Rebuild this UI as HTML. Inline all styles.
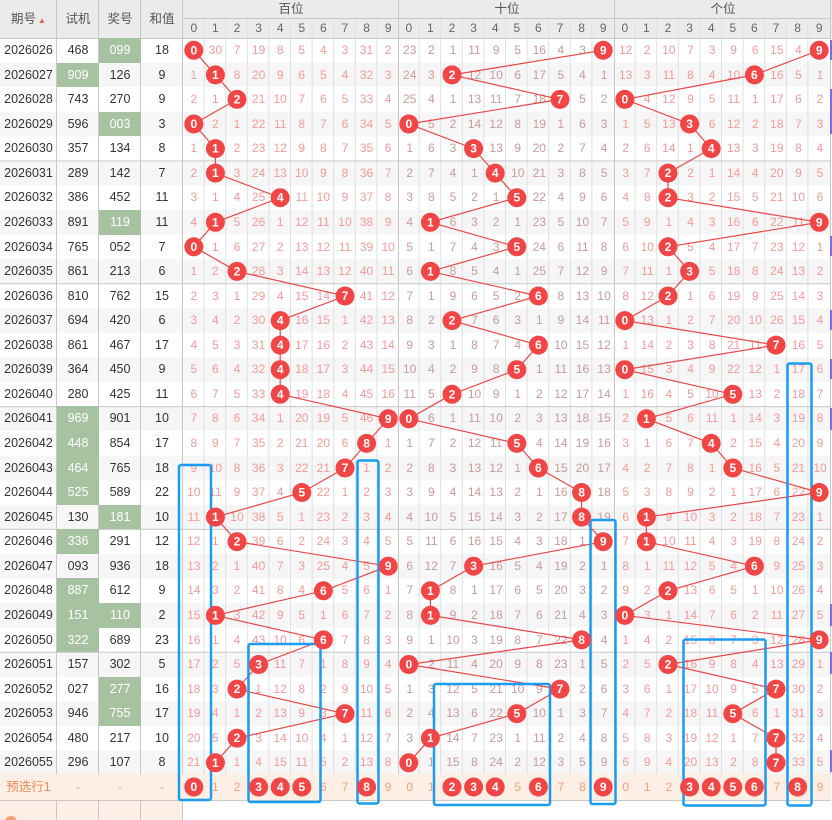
<!DOCTYPE html>
<html><head><meta charset="utf-8"><style>
*{margin:0;padding:0;box-sizing:border-box}
body{width:832px;height:820px;overflow:hidden;background:#fff;position:relative;font-family:"Liberation Sans","Noto Sans CJK SC",sans-serif;font-size:12px}
.abs{position:absolute;left:0;top:0}
.g{position:absolute;left:0;top:38px;width:831px;display:grid;grid-template-columns:57px 42px 42px 42px repeat(30,21.6px);grid-auto-rows:24.57px}
.g i{font-style:normal;text-align:center;line-height:24.57px;color:#f49a9a;white-space:nowrap;overflow:visible}
.g i:nth-child(34n+1),.g i:nth-child(34n+2),.g i:nth-child(34n+3),.g i:nth-child(34n+4){color:#333;font-size:12.5px}
.g i:nth-child(34n+15),.g i:nth-child(34n+16),.g i:nth-child(34n+17),.g i:nth-child(34n+18),.g i:nth-child(34n+19),.g i:nth-child(34n+20),.g i:nth-child(34n+21),.g i:nth-child(34n+22),.g i:nth-child(34n+23),.g i:nth-child(34n+24){color:#c99a9a}
.g i.k{background:#a7c2a0;color:#fff}
.f{position:absolute;left:0;top:774px;width:831px;height:26px;display:grid;grid-template-columns:57px 42px 42px 42px repeat(30,21.6px);background:#fdeee6}
.f i{font-style:normal;text-align:center;line-height:26px;color:#f5a070}
.f i:first-child{color:#f08a50;font-size:12.5px}
.h{position:absolute;top:0;height:38px;line-height:38px;text-align:center;color:#555;font-size:12.5px}
.h2{position:absolute;top:0;height:18px;line-height:18px;text-align:center;color:#555;font-size:12.5px}
.hd{position:absolute;top:18px;height:20px;line-height:20px;width:21.6px;text-align:center;color:#666;font-size:12px}
svg text{fill:#fff;font:bold 12px "Liberation Sans",sans-serif;text-anchor:middle;dominant-baseline:central}
</style></head><body>
<svg class="abs" width="832" height="820">
<defs><pattern id="st" width="832" height="49.14" patternUnits="userSpaceOnUse" y="38"><rect y="24.57" width="832" height="24.57" fill="#f6f6f6"/></pattern></defs>
<rect x="0" y="0" width="832" height="38" fill="#ebebeb"/>
<rect x="0" y="38" width="831" height="737" fill="url(#st)"/>
<rect x="0" y="800" width="183" height="20" fill="#fdeee6"/>
<g stroke="#e0e0e0" stroke-width="1">
<path d="M204.1 18V800M225.7 18V800M247.3 18V800M268.9 18V800M290.5 18V800M312.1 18V800M333.7 18V800M355.3 18V800M376.9 18V800M419.1 18V800M440.7 18V800M462.3 18V800M483.9 18V800M505.5 18V800M527.1 18V800M548.7 18V800M570.3 18V800M591.9 18V800M635.1 18V800M656.7 18V800M678.3 18V800M699.9 18V800M721.5 18V800M743.1 18V800M764.7 18V800M786.3 18V800M807.9 18V800"/>
</g>
<g stroke="#c8c8c8" stroke-width="1">
<path d="M56.5 0V820M98.5 0V820M140.5 0V820M182.5 0V820M398.5 0V800M614.5 0V800M830.5 0V800"/>
<path d="M183 18.5H831M0 38.5H831M0 160.9H831M0 283.7H831M0 406.6H831M0 529.4H831M0 652.3H831M0 774.5H831M0 800.5H831"/>
</g>
<rect x="830" y="40" width="2" height="20" fill="#7b6cf0"/>
<rect x="830" y="89" width="2" height="45" fill="#7b6cf0"/>
<rect x="830" y="236" width="2" height="20" fill="#7b6cf0"/>
<rect x="830" y="310" width="2" height="20" fill="#7b6cf0"/>
<rect x="830" y="359" width="2" height="20" fill="#7b6cf0"/>
<rect x="830" y="408" width="2" height="22" fill="#7b6cf0"/>
<rect x="830" y="604" width="2" height="22" fill="#7b6cf0"/>
<rect x="830" y="652" width="2" height="22" fill="#7b6cf0"/>
<rect x="830" y="750" width="2" height="22" fill="#7b6cf0"/>
<circle cx="11" cy="822" r="6" fill="#f5a070"/>
</svg>

<div class="h" style="left:0;width:57px">期号<span style="font-size:8px;color:#e55;margin-left:2px">▲</span></div>
<div class="h" style="left:57px;width:42px">试机</div>
<div class="h" style="left:99px;width:42px">奖号</div>
<div class="h" style="left:141px;width:42px">和值</div>
<div class="h2" style="left:183px;width:216px">百位</div>
<div class="h2" style="left:399px;width:216px">十位</div>
<div class="h2" style="left:615px;width:216px">个位</div>
<div class="hd" style="left:183px">0</div><div class="hd" style="left:204.6px">1</div><div class="hd" style="left:226.2px">2</div><div class="hd" style="left:247.8px">3</div><div class="hd" style="left:269.4px">4</div><div class="hd" style="left:291px">5</div><div class="hd" style="left:312.6px">6</div><div class="hd" style="left:334.2px">7</div><div class="hd" style="left:355.8px">8</div><div class="hd" style="left:377.4px">9</div>
<div class="hd" style="left:398px">0</div><div class="hd" style="left:419.6px">1</div><div class="hd" style="left:441.2px">2</div><div class="hd" style="left:462.8px">3</div><div class="hd" style="left:484.4px">4</div><div class="hd" style="left:506px">5</div><div class="hd" style="left:527.6px">6</div><div class="hd" style="left:549.2px">7</div><div class="hd" style="left:570.8px">8</div><div class="hd" style="left:592.4px">9</div>
<div class="hd" style="left:614px">0</div><div class="hd" style="left:635.6px">1</div><div class="hd" style="left:657.2px">2</div><div class="hd" style="left:678.8px">3</div><div class="hd" style="left:700.4px">4</div><div class="hd" style="left:722px">5</div><div class="hd" style="left:743.6px">6</div><div class="hd" style="left:765.2px">7</div><div class="hd" style="left:786.8px">8</div><div class="hd" style="left:808.4px">9</div>

<div class="g">
<i>2026026</i><i>468</i><i class="k">099</i><i>18</i><i></i><i>30</i><i>7</i><i>19</i><i>8</i><i>5</i><i>4</i><i>3</i><i>31</i><i>2</i><i>23</i><i>2</i><i>1</i><i>11</i><i>9</i><i>5</i><i>16</i><i>4</i><i>3</i><i></i><i>12</i><i>2</i><i>10</i><i>7</i><i>3</i><i>9</i><i>6</i><i>15</i><i>4</i><i></i>
<i>2026027</i><i class="k">909</i><i>126</i><i>9</i><i>1</i><i></i><i>8</i><i>20</i><i>9</i><i>6</i><i>5</i><i>4</i><i>32</i><i>3</i><i>24</i><i>3</i><i></i><i>12</i><i>10</i><i>6</i><i>17</i><i>5</i><i>4</i><i>1</i><i>13</i><i>3</i><i>11</i><i>8</i><i>4</i><i>10</i><i></i><i>16</i><i>5</i><i>1</i>
<i>2026028</i><i>743</i><i>270</i><i>9</i><i>2</i><i>1</i><i></i><i>21</i><i>10</i><i>7</i><i>6</i><i>5</i><i>33</i><i>4</i><i>25</i><i>4</i><i>1</i><i>13</i><i>11</i><i>7</i><i>18</i><i></i><i>5</i><i>2</i><i></i><i>4</i><i>12</i><i>9</i><i>5</i><i>11</i><i>1</i><i>17</i><i>6</i><i>2</i>
<i>2026029</i><i>596</i><i class="k">003</i><i>3</i><i></i><i>2</i><i>1</i><i>22</i><i>11</i><i>8</i><i>7</i><i>6</i><i>34</i><i>5</i><i></i><i>5</i><i>2</i><i>14</i><i>12</i><i>8</i><i>19</i><i>1</i><i>6</i><i>3</i><i>1</i><i>5</i><i>13</i><i></i><i>6</i><i>12</i><i>2</i><i>18</i><i>7</i><i>3</i>
<i>2026030</i><i>357</i><i>134</i><i>8</i><i>1</i><i></i><i>2</i><i>23</i><i>12</i><i>9</i><i>8</i><i>7</i><i>35</i><i>6</i><i>1</i><i>6</i><i>3</i><i></i><i>13</i><i>9</i><i>20</i><i>2</i><i>7</i><i>4</i><i>2</i><i>6</i><i>14</i><i>1</i><i></i><i>13</i><i>3</i><i>19</i><i>8</i><i>4</i>
<i>2026031</i><i>289</i><i>142</i><i>7</i><i>2</i><i></i><i>3</i><i>24</i><i>13</i><i>10</i><i>9</i><i>8</i><i>36</i><i>7</i><i>2</i><i>7</i><i>4</i><i>1</i><i></i><i>10</i><i>21</i><i>3</i><i>8</i><i>5</i><i>3</i><i>7</i><i></i><i>2</i><i>1</i><i>14</i><i>4</i><i>20</i><i>9</i><i>5</i>
<i>2026032</i><i>386</i><i>452</i><i>11</i><i>3</i><i>1</i><i>4</i><i>25</i><i></i><i>11</i><i>10</i><i>9</i><i>37</i><i>8</i><i>3</i><i>8</i><i>5</i><i>2</i><i>1</i><i></i><i>22</i><i>4</i><i>9</i><i>6</i><i>4</i><i>8</i><i></i><i>3</i><i>2</i><i>15</i><i>5</i><i>21</i><i>10</i><i>6</i>
<i>2026033</i><i>891</i><i class="k">119</i><i>11</i><i>4</i><i></i><i>5</i><i>26</i><i>1</i><i>12</i><i>11</i><i>10</i><i>38</i><i>9</i><i>4</i><i></i><i>6</i><i>3</i><i>2</i><i>1</i><i>23</i><i>5</i><i>10</i><i>7</i><i>5</i><i>9</i><i>1</i><i>4</i><i>3</i><i>16</i><i>6</i><i>22</i><i>11</i><i></i>
<i>2026034</i><i>765</i><i>052</i><i>7</i><i></i><i>1</i><i>6</i><i>27</i><i>2</i><i>13</i><i>12</i><i>11</i><i>39</i><i>10</i><i>5</i><i>1</i><i>7</i><i>4</i><i>3</i><i></i><i>24</i><i>6</i><i>11</i><i>8</i><i>6</i><i>10</i><i></i><i>5</i><i>4</i><i>17</i><i>7</i><i>23</i><i>12</i><i>1</i>
<i>2026035</i><i>861</i><i>213</i><i>6</i><i>1</i><i>2</i><i></i><i>28</i><i>3</i><i>14</i><i>13</i><i>12</i><i>40</i><i>11</i><i>6</i><i></i><i>8</i><i>5</i><i>4</i><i>1</i><i>25</i><i>7</i><i>12</i><i>9</i><i>7</i><i>11</i><i>1</i><i></i><i>5</i><i>18</i><i>8</i><i>24</i><i>13</i><i>2</i>
<i>2026036</i><i>810</i><i>762</i><i>15</i><i>2</i><i>3</i><i>1</i><i>29</i><i>4</i><i>15</i><i>14</i><i></i><i>41</i><i>12</i><i>7</i><i>1</i><i>9</i><i>6</i><i>5</i><i>2</i><i></i><i>8</i><i>13</i><i>10</i><i>8</i><i>12</i><i></i><i>1</i><i>6</i><i>19</i><i>9</i><i>25</i><i>14</i><i>3</i>
<i>2026037</i><i>694</i><i>420</i><i>6</i><i>3</i><i>4</i><i>2</i><i>30</i><i></i><i>16</i><i>15</i><i>1</i><i>42</i><i>13</i><i>8</i><i>2</i><i></i><i>7</i><i>6</i><i>3</i><i>1</i><i>9</i><i>14</i><i>11</i><i></i><i>13</i><i>1</i><i>2</i><i>7</i><i>20</i><i>10</i><i>26</i><i>15</i><i>4</i>
<i>2026038</i><i>861</i><i>467</i><i>17</i><i>4</i><i>5</i><i>3</i><i>31</i><i></i><i>17</i><i>16</i><i>2</i><i>43</i><i>14</i><i>9</i><i>3</i><i>1</i><i>8</i><i>7</i><i>4</i><i></i><i>10</i><i>15</i><i>12</i><i>1</i><i>14</i><i>2</i><i>3</i><i>8</i><i>21</i><i>11</i><i></i><i>16</i><i>5</i>
<i>2026039</i><i>364</i><i>450</i><i>9</i><i>5</i><i>6</i><i>4</i><i>32</i><i></i><i>18</i><i>17</i><i>3</i><i>44</i><i>15</i><i>10</i><i>4</i><i>2</i><i>9</i><i>8</i><i></i><i>1</i><i>11</i><i>16</i><i>13</i><i></i><i>15</i><i>3</i><i>4</i><i>9</i><i>22</i><i>12</i><i>1</i><i>17</i><i>6</i>
<i>2026040</i><i>280</i><i>425</i><i>11</i><i>6</i><i>7</i><i>5</i><i>33</i><i></i><i>19</i><i>18</i><i>4</i><i>45</i><i>16</i><i>11</i><i>5</i><i></i><i>10</i><i>9</i><i>1</i><i>2</i><i>12</i><i>17</i><i>14</i><i>1</i><i>16</i><i>4</i><i>5</i><i>10</i><i></i><i>13</i><i>2</i><i>18</i><i>7</i>
<i>2026041</i><i class="k">969</i><i>901</i><i>10</i><i>7</i><i>8</i><i>6</i><i>34</i><i>1</i><i>20</i><i>19</i><i>5</i><i>46</i><i></i><i></i><i>6</i><i>1</i><i>11</i><i>10</i><i>2</i><i>3</i><i>13</i><i>18</i><i>15</i><i>2</i><i></i><i>5</i><i>6</i><i>11</i><i>1</i><i>14</i><i>3</i><i>19</i><i>8</i>
<i>2026042</i><i class="k">448</i><i>854</i><i>17</i><i>8</i><i>9</i><i>7</i><i>35</i><i>2</i><i>21</i><i>20</i><i>6</i><i></i><i>1</i><i>1</i><i>7</i><i>2</i><i>12</i><i>11</i><i></i><i>4</i><i>14</i><i>19</i><i>16</i><i>3</i><i>1</i><i>6</i><i>7</i><i></i><i>2</i><i>15</i><i>4</i><i>20</i><i>9</i>
<i>2026043</i><i class="k">464</i><i>765</i><i>18</i><i>9</i><i>10</i><i>8</i><i>36</i><i>3</i><i>22</i><i>21</i><i></i><i>1</i><i>2</i><i>2</i><i>8</i><i>3</i><i>13</i><i>12</i><i>1</i><i></i><i>15</i><i>20</i><i>17</i><i>4</i><i>2</i><i>7</i><i>8</i><i>1</i><i></i><i>16</i><i>5</i><i>21</i><i>10</i>
<i>2026044</i><i class="k">525</i><i>589</i><i>22</i><i>10</i><i>11</i><i>9</i><i>37</i><i>4</i><i></i><i>22</i><i>1</i><i>2</i><i>3</i><i>3</i><i>9</i><i>4</i><i>14</i><i>13</i><i>2</i><i>1</i><i>16</i><i></i><i>18</i><i>5</i><i>3</i><i>8</i><i>9</i><i>2</i><i>1</i><i>17</i><i>6</i><i>22</i><i></i>
<i>2026045</i><i>130</i><i class="k">181</i><i>10</i><i>11</i><i></i><i>10</i><i>38</i><i>5</i><i>1</i><i>23</i><i>2</i><i>3</i><i>4</i><i>4</i><i>10</i><i>5</i><i>15</i><i>14</i><i>3</i><i>2</i><i>17</i><i></i><i>19</i><i>6</i><i></i><i>9</i><i>10</i><i>3</i><i>2</i><i>18</i><i>7</i><i>23</i><i>1</i>
<i>2026046</i><i class="k">336</i><i>291</i><i>12</i><i>12</i><i>1</i><i></i><i>39</i><i>6</i><i>2</i><i>24</i><i>3</i><i>4</i><i>5</i><i>5</i><i>11</i><i>6</i><i>16</i><i>15</i><i>4</i><i>3</i><i>18</i><i>1</i><i></i><i>7</i><i></i><i>10</i><i>11</i><i>4</i><i>3</i><i>19</i><i>8</i><i>24</i><i>2</i>
<i>2026047</i><i>093</i><i>936</i><i>18</i><i>13</i><i>2</i><i>1</i><i>40</i><i>7</i><i>3</i><i>25</i><i>4</i><i>5</i><i></i><i>6</i><i>12</i><i>7</i><i></i><i>16</i><i>5</i><i>4</i><i>19</i><i>2</i><i>1</i><i>8</i><i>1</i><i>11</i><i>12</i><i>5</i><i>4</i><i></i><i>9</i><i>25</i><i>3</i>
<i>2026048</i><i class="k">887</i><i>612</i><i>9</i><i>14</i><i>3</i><i>2</i><i>41</i><i>8</i><i>4</i><i></i><i>5</i><i>6</i><i>1</i><i>7</i><i></i><i>8</i><i>1</i><i>17</i><i>6</i><i>5</i><i>20</i><i>3</i><i>2</i><i>9</i><i>2</i><i></i><i>13</i><i>6</i><i>5</i><i>1</i><i>10</i><i>26</i><i>4</i>
<i>2026049</i><i class="k">151</i><i class="k">110</i><i>2</i><i>15</i><i></i><i>3</i><i>42</i><i>9</i><i>5</i><i>1</i><i>6</i><i>7</i><i>2</i><i>8</i><i></i><i>9</i><i>2</i><i>18</i><i>7</i><i>6</i><i>21</i><i>4</i><i>3</i><i></i><i>3</i><i>1</i><i>14</i><i>7</i><i>6</i><i>2</i><i>11</i><i>27</i><i>5</i>
<i>2026050</i><i class="k">322</i><i>689</i><i>23</i><i>16</i><i>1</i><i>4</i><i>43</i><i>10</i><i>6</i><i></i><i>7</i><i>8</i><i>3</i><i>9</i><i>1</i><i>10</i><i>3</i><i>19</i><i>8</i><i>7</i><i>22</i><i></i><i>4</i><i>1</i><i>4</i><i>2</i><i>15</i><i>8</i><i>7</i><i>3</i><i>12</i><i>28</i><i></i>
<i>2026051</i><i>157</i><i>302</i><i>5</i><i>17</i><i>2</i><i>5</i><i></i><i>11</i><i>7</i><i>1</i><i>8</i><i>9</i><i>4</i><i></i><i>2</i><i>11</i><i>4</i><i>20</i><i>9</i><i>8</i><i>23</i><i>1</i><i>5</i><i>2</i><i>5</i><i></i><i>16</i><i>9</i><i>8</i><i>4</i><i>13</i><i>29</i><i>1</i>
<i>2026052</i><i>027</i><i class="k">277</i><i>16</i><i>18</i><i>3</i><i></i><i>1</i><i>12</i><i>8</i><i>2</i><i>9</i><i>10</i><i>5</i><i>1</i><i>3</i><i>12</i><i>5</i><i>21</i><i>10</i><i>9</i><i></i><i>2</i><i>6</i><i>3</i><i>6</i><i>1</i><i>17</i><i>10</i><i>9</i><i>5</i><i></i><i>30</i><i>2</i>
<i>2026053</i><i>946</i><i class="k">755</i><i>17</i><i>19</i><i>4</i><i>1</i><i>2</i><i>13</i><i>9</i><i>3</i><i></i><i>11</i><i>6</i><i>2</i><i>4</i><i>13</i><i>6</i><i>22</i><i></i><i>10</i><i>1</i><i>3</i><i>7</i><i>4</i><i>7</i><i>2</i><i>18</i><i>11</i><i></i><i>6</i><i>1</i><i>31</i><i>3</i>
<i>2026054</i><i>480</i><i>217</i><i>10</i><i>20</i><i>5</i><i></i><i>3</i><i>14</i><i>10</i><i>4</i><i>1</i><i>12</i><i>7</i><i>3</i><i></i><i>14</i><i>7</i><i>23</i><i>1</i><i>11</i><i>2</i><i>4</i><i>8</i><i>5</i><i>8</i><i>3</i><i>19</i><i>12</i><i>1</i><i>7</i><i></i><i>32</i><i>4</i>
<i>2026055</i><i>296</i><i>107</i><i>8</i><i>21</i><i></i><i>1</i><i>4</i><i>15</i><i>11</i><i>5</i><i>2</i><i>13</i><i>8</i><i></i><i>1</i><i>15</i><i>8</i><i>24</i><i>2</i><i>12</i><i>3</i><i>5</i><i>9</i><i>6</i><i>9</i><i>4</i><i>20</i><i>13</i><i>2</i><i>8</i><i></i><i>33</i><i>5</i>
</div>
<div class="f"><i>预选行1</i><i>-</i><i>-</i><i>-</i><i></i><i>1</i><i>2</i><i></i><i></i><i></i><i>6</i><i>7</i><i></i><i>9</i><i>0</i><i>1</i><i></i><i></i><i></i><i>5</i><i></i><i>7</i><i>8</i><i></i><i>0</i><i>1</i><i>2</i><i></i><i></i><i></i><i></i><i>7</i><i></i><i>9</i></div>

<svg class="abs" width="832" height="820">
<g fill="none" stroke="#e84848" stroke-width="1.2">
<polyline points="193.8,50.3 215.4,74.9 237,99.4 193.8,124 215.4,148.6 215.4,173.1 280.2,197.7 215.4,222.3 193.8,246.8 237,271.4 345,296 280.2,320.6 280.2,345.1 280.2,369.7 280.2,394.3 388.2,418.8 366.6,443.4 345,468 301.8,492.5 215.4,517.1 237,541.7 388.2,566.2 323.4,590.8 215.4,615.4 323.4,639.9 258.6,664.5 237,689.1 345,713.7 237,738.2 215.4,762.8"/>
<polyline points="603.2,50.3 452,74.9 560,99.4 408.8,124 473.6,148.6 495.2,173.1 516.8,197.7 430.4,222.3 516.8,246.8 430.4,271.4 538.4,296 452,320.6 538.4,345.1 516.8,369.7 452,394.3 408.8,418.8 516.8,443.4 538.4,468 581.6,492.5 581.6,517.1 603.2,541.7 473.6,566.2 430.4,590.8 430.4,615.4 581.6,639.9 408.8,664.5 560,689.1 516.8,713.7 430.4,738.2 408.8,762.8"/>
<polyline points="819.2,50.3 754.4,74.9 624.8,99.4 689.6,124 711.2,148.6 668,173.1 668,197.7 819.2,222.3 668,246.8 689.6,271.4 668,296 624.8,320.6 776,345.1 624.8,369.7 732.8,394.3 646.4,418.8 711.2,443.4 732.8,468 819.2,492.5 646.4,517.1 646.4,541.7 754.4,566.2 668,590.8 624.8,615.4 819.2,639.9 668,664.5 776,689.1 732.8,713.7 776,738.2 776,762.8"/>
</g>
<g fill="none" stroke="#1a9cf0" stroke-width="2.5">
<rect x="179" y="465" width="32" height="335" rx="2"/>
<rect x="248.5" y="644" width="72" height="158" rx="2"/>
<rect x="357.5" y="460.5" width="21" height="343" rx="2"/>
<rect x="434" y="684" width="116" height="121" rx="2"/>
<rect x="590.5" y="520" width="25" height="284" rx="2"/>
<rect x="683.5" y="639.5" width="82" height="166" rx="2"/>
<rect x="787.5" y="363.5" width="24" height="442" rx="2"/>
</g>
<g fill="#f24545">
<circle cx="193.8" cy="50.3" r="9.5"/><circle cx="215.4" cy="74.9" r="9.5"/><circle cx="237" cy="99.4" r="9.5"/><circle cx="193.8" cy="124" r="9.5"/><circle cx="215.4" cy="148.6" r="9.5"/><circle cx="215.4" cy="173.1" r="9.5"/><circle cx="280.2" cy="197.7" r="9.5"/><circle cx="215.4" cy="222.3" r="9.5"/><circle cx="193.8" cy="246.8" r="9.5"/><circle cx="237" cy="271.4" r="9.5"/><circle cx="345" cy="296" r="9.5"/><circle cx="280.2" cy="320.6" r="9.5"/><circle cx="280.2" cy="345.1" r="9.5"/><circle cx="280.2" cy="369.7" r="9.5"/><circle cx="280.2" cy="394.3" r="9.5"/><circle cx="388.2" cy="418.8" r="9.5"/><circle cx="366.6" cy="443.4" r="9.5"/><circle cx="345" cy="468" r="9.5"/><circle cx="301.8" cy="492.5" r="9.5"/><circle cx="215.4" cy="517.1" r="9.5"/><circle cx="237" cy="541.7" r="9.5"/><circle cx="388.2" cy="566.2" r="9.5"/><circle cx="323.4" cy="590.8" r="9.5"/><circle cx="215.4" cy="615.4" r="9.5"/><circle cx="323.4" cy="639.9" r="9.5"/><circle cx="258.6" cy="664.5" r="9.5"/><circle cx="237" cy="689.1" r="9.5"/><circle cx="345" cy="713.7" r="9.5"/><circle cx="237" cy="738.2" r="9.5"/><circle cx="215.4" cy="762.8" r="9.5"/>
<circle cx="603.2" cy="50.3" r="9.5"/><circle cx="452" cy="74.9" r="9.5"/><circle cx="560" cy="99.4" r="9.5"/><circle cx="408.8" cy="124" r="9.5"/><circle cx="473.6" cy="148.6" r="9.5"/><circle cx="495.2" cy="173.1" r="9.5"/><circle cx="516.8" cy="197.7" r="9.5"/><circle cx="430.4" cy="222.3" r="9.5"/><circle cx="516.8" cy="246.8" r="9.5"/><circle cx="430.4" cy="271.4" r="9.5"/><circle cx="538.4" cy="296" r="9.5"/><circle cx="452" cy="320.6" r="9.5"/><circle cx="538.4" cy="345.1" r="9.5"/><circle cx="516.8" cy="369.7" r="9.5"/><circle cx="452" cy="394.3" r="9.5"/><circle cx="408.8" cy="418.8" r="9.5"/><circle cx="516.8" cy="443.4" r="9.5"/><circle cx="538.4" cy="468" r="9.5"/><circle cx="581.6" cy="492.5" r="9.5"/><circle cx="581.6" cy="517.1" r="9.5"/><circle cx="603.2" cy="541.7" r="9.5"/><circle cx="473.6" cy="566.2" r="9.5"/><circle cx="430.4" cy="590.8" r="9.5"/><circle cx="430.4" cy="615.4" r="9.5"/><circle cx="581.6" cy="639.9" r="9.5"/><circle cx="408.8" cy="664.5" r="9.5"/><circle cx="560" cy="689.1" r="9.5"/><circle cx="516.8" cy="713.7" r="9.5"/><circle cx="430.4" cy="738.2" r="9.5"/><circle cx="408.8" cy="762.8" r="9.5"/>
<circle cx="819.2" cy="50.3" r="9.5"/><circle cx="754.4" cy="74.9" r="9.5"/><circle cx="624.8" cy="99.4" r="9.5"/><circle cx="689.6" cy="124" r="9.5"/><circle cx="711.2" cy="148.6" r="9.5"/><circle cx="668" cy="173.1" r="9.5"/><circle cx="668" cy="197.7" r="9.5"/><circle cx="819.2" cy="222.3" r="9.5"/><circle cx="668" cy="246.8" r="9.5"/><circle cx="689.6" cy="271.4" r="9.5"/><circle cx="668" cy="296" r="9.5"/><circle cx="624.8" cy="320.6" r="9.5"/><circle cx="776" cy="345.1" r="9.5"/><circle cx="624.8" cy="369.7" r="9.5"/><circle cx="732.8" cy="394.3" r="9.5"/><circle cx="646.4" cy="418.8" r="9.5"/><circle cx="711.2" cy="443.4" r="9.5"/><circle cx="732.8" cy="468" r="9.5"/><circle cx="819.2" cy="492.5" r="9.5"/><circle cx="646.4" cy="517.1" r="9.5"/><circle cx="646.4" cy="541.7" r="9.5"/><circle cx="754.4" cy="566.2" r="9.5"/><circle cx="668" cy="590.8" r="9.5"/><circle cx="624.8" cy="615.4" r="9.5"/><circle cx="819.2" cy="639.9" r="9.5"/><circle cx="668" cy="664.5" r="9.5"/><circle cx="776" cy="689.1" r="9.5"/><circle cx="732.8" cy="713.7" r="9.5"/><circle cx="776" cy="738.2" r="9.5"/><circle cx="776" cy="762.8" r="9.5"/>
<circle cx="193.8" cy="787" r="9.5"/><circle cx="258.6" cy="787" r="9.5"/><circle cx="280.2" cy="787" r="9.5"/><circle cx="301.8" cy="787" r="9.5"/><circle cx="366.6" cy="787" r="9.5"/>
<circle cx="452" cy="787" r="9.5"/><circle cx="473.6" cy="787" r="9.5"/><circle cx="495.2" cy="787" r="9.5"/><circle cx="538.4" cy="787" r="9.5"/><circle cx="603.2" cy="787" r="9.5"/>
<circle cx="689.6" cy="787" r="9.5"/><circle cx="711.2" cy="787" r="9.5"/><circle cx="732.8" cy="787" r="9.5"/><circle cx="754.4" cy="787" r="9.5"/><circle cx="797.6" cy="787" r="9.5"/>
</g>
<g>
<text x="193.8" y="50.3">0</text><text x="215.4" y="74.9">1</text><text x="237" y="99.4">2</text><text x="193.8" y="124">0</text><text x="215.4" y="148.6">1</text><text x="215.4" y="173.1">1</text><text x="280.2" y="197.7">4</text><text x="215.4" y="222.3">1</text><text x="193.8" y="246.8">0</text><text x="237" y="271.4">2</text><text x="345" y="296">7</text><text x="280.2" y="320.6">4</text><text x="280.2" y="345.1">4</text><text x="280.2" y="369.7">4</text><text x="280.2" y="394.3">4</text><text x="388.2" y="418.8">9</text><text x="366.6" y="443.4">8</text><text x="345" y="468">7</text><text x="301.8" y="492.5">5</text><text x="215.4" y="517.1">1</text><text x="237" y="541.7">2</text><text x="388.2" y="566.2">9</text><text x="323.4" y="590.8">6</text><text x="215.4" y="615.4">1</text><text x="323.4" y="639.9">6</text><text x="258.6" y="664.5">3</text><text x="237" y="689.1">2</text><text x="345" y="713.7">7</text><text x="237" y="738.2">2</text><text x="215.4" y="762.8">1</text>
<text x="603.2" y="50.3">9</text><text x="452" y="74.9">2</text><text x="560" y="99.4">7</text><text x="408.8" y="124">0</text><text x="473.6" y="148.6">3</text><text x="495.2" y="173.1">4</text><text x="516.8" y="197.7">5</text><text x="430.4" y="222.3">1</text><text x="516.8" y="246.8">5</text><text x="430.4" y="271.4">1</text><text x="538.4" y="296">6</text><text x="452" y="320.6">2</text><text x="538.4" y="345.1">6</text><text x="516.8" y="369.7">5</text><text x="452" y="394.3">2</text><text x="408.8" y="418.8">0</text><text x="516.8" y="443.4">5</text><text x="538.4" y="468">6</text><text x="581.6" y="492.5">8</text><text x="581.6" y="517.1">8</text><text x="603.2" y="541.7">9</text><text x="473.6" y="566.2">3</text><text x="430.4" y="590.8">1</text><text x="430.4" y="615.4">1</text><text x="581.6" y="639.9">8</text><text x="408.8" y="664.5">0</text><text x="560" y="689.1">7</text><text x="516.8" y="713.7">5</text><text x="430.4" y="738.2">1</text><text x="408.8" y="762.8">0</text>
<text x="819.2" y="50.3">9</text><text x="754.4" y="74.9">6</text><text x="624.8" y="99.4">0</text><text x="689.6" y="124">3</text><text x="711.2" y="148.6">4</text><text x="668" y="173.1">2</text><text x="668" y="197.7">2</text><text x="819.2" y="222.3">9</text><text x="668" y="246.8">2</text><text x="689.6" y="271.4">3</text><text x="668" y="296">2</text><text x="624.8" y="320.6">0</text><text x="776" y="345.1">7</text><text x="624.8" y="369.7">0</text><text x="732.8" y="394.3">5</text><text x="646.4" y="418.8">1</text><text x="711.2" y="443.4">4</text><text x="732.8" y="468">5</text><text x="819.2" y="492.5">9</text><text x="646.4" y="517.1">1</text><text x="646.4" y="541.7">1</text><text x="754.4" y="566.2">6</text><text x="668" y="590.8">2</text><text x="624.8" y="615.4">0</text><text x="819.2" y="639.9">9</text><text x="668" y="664.5">2</text><text x="776" y="689.1">7</text><text x="732.8" y="713.7">5</text><text x="776" y="738.2">7</text><text x="776" y="762.8">7</text>
<text x="193.8" y="787">0</text><text x="258.6" y="787">3</text><text x="280.2" y="787">4</text><text x="301.8" y="787">5</text><text x="366.6" y="787">8</text>
<text x="452" y="787">2</text><text x="473.6" y="787">3</text><text x="495.2" y="787">4</text><text x="538.4" y="787">6</text><text x="603.2" y="787">9</text>
<text x="689.6" y="787">3</text><text x="711.2" y="787">4</text><text x="732.8" y="787">5</text><text x="754.4" y="787">6</text><text x="797.6" y="787">8</text>
</g>
</svg>
</body></html>
